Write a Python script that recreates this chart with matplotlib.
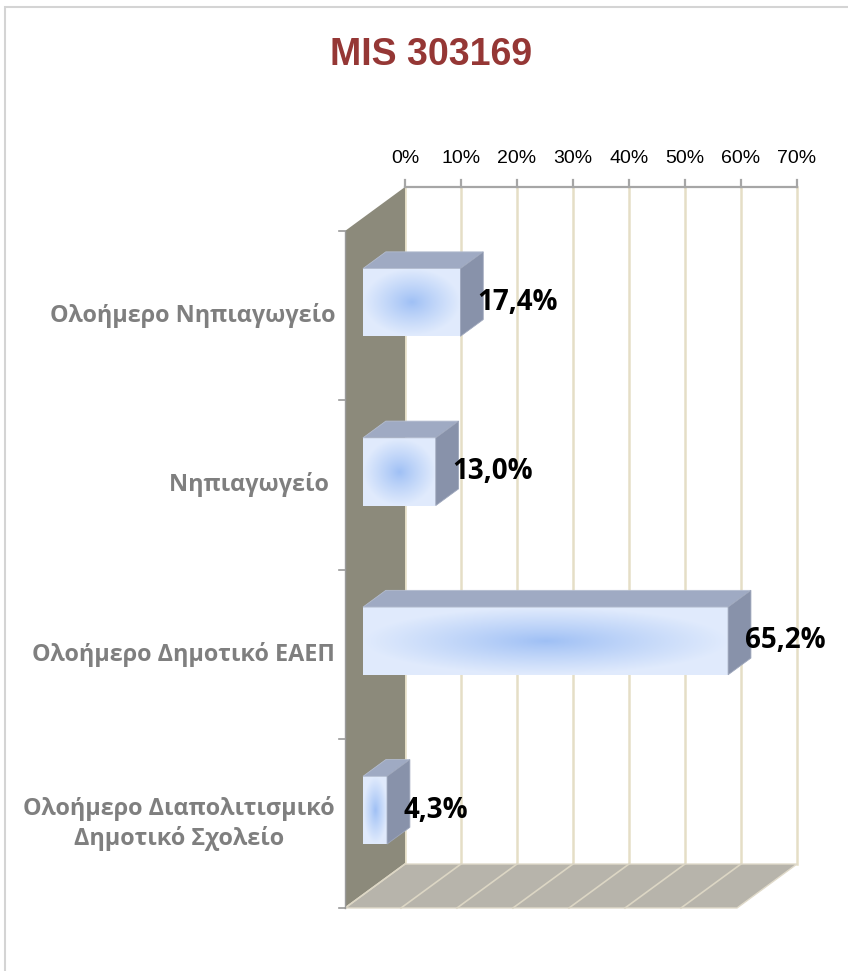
import matplotlib

matplotlib.use("Agg")
import matplotlib.pyplot as plt
import numpy as np
from matplotlib.patches import Polygon, Rectangle

# data
title = "MIS 303169"
categories = [
    "Ολοήμερο Νηπιαγωγείο",
    "Νηπιαγωγείο ",
    "Ολοήμερο Δημοτικό ΕΑΕΠ",
    "Ολοήμερο Διαπολιτισμικό\nΔημοτικό Σχολείο",
]
values = [17.4, 13.0, 65.2, 4.3]
value_labels = ["17,4%", "13,0%", "65,2%", "4,3%"]
ticks = [0, 10, 20, 30, 40, 50, 60, 70]
tick_labels = ["0%", "10%", "20%", "30%", "40%", "50%", "60%", "70%"]

# layout (pixels)
W, H = 848, 971
PX_PER_PCT = 5.6
PX_PER_CAT = 169.25
X0, Y0 = 345, 231
DX = 60 / PX_PER_PCT
DY = -44 / PX_PER_CAT
D_FRONT, D_BACK = 0.30, 0.68
HALF_BAR = 0.2
FONT = "Liberation Sans"
LABEL_FONT = "Open Sans"

n = len(categories)
vmax = ticks[-1]


def proj(v, c, d):
    return v + d * DX, c + d * DY


def px(dx_px):
    return dx_px / PX_PER_PCT


def py(dy_px):
    return dy_px / PX_PER_CAT


fig = plt.figure(figsize=(W / 100, H / 100), dpi=100)
ax = fig.add_axes([0, 0, 1, 1])
ax.axis("off")

# back wall gridlines
for t in ticks:
    x1, y1 = proj(t, 0, 1)
    x2, y2 = proj(t, n, 1)
    ax.plot([x1, x2], [y1, y2], color="#E5DEC6", lw=1.8, zorder=1)

# left wall
wall = [proj(0, 0, 0), proj(0, 0, 1), proj(0, n, 1), proj(0, n, 0)]
ax.add_patch(Polygon(wall, closed=True, fc="#8C8A7B", ec="none", zorder=2))

# floor
floor = [proj(0, n, 0), proj(0, n, 1), proj(vmax, n, 1), proj(vmax, n, 0)]
ax.add_patch(Polygon(floor, closed=True, fc="#B7B4AB", ec="#E0DACA", lw=1.0, zorder=2))
for t in ticks[:-1]:
    x1, y1 = proj(t, n, 1)
    x2, y2 = proj(t, n, 0)
    ax.plot([x1, x2], [y1, y2], color="#DCD6C4", lw=1.2, zorder=3)

# top value axis
xa, ya = proj(0, 0, 1)
xb, yb = proj(vmax, 0, 1)
ax.plot([xa, xb], [ya, yb], color="#A6A6A6", lw=1.6, zorder=4)
for t, lab in zip(ticks, tick_labels):
    x, y = proj(t, 0, 1)
    ax.plot([x, x], [y, y - py(7)], color="#A6A6A6", lw=1.6, zorder=4)
    ax.text(x, y - py(29), lab, ha="center", va="center", fontsize=14,
            family=FONT, color="black", zorder=5)

# left category axis ticks
xl, yt = proj(0, 0, 0)
_, yb2 = proj(0, n, 0)
ax.plot([xl, xl], [yt, yb2], color="#9A9A9A", lw=1.0, zorder=4)
for k in range(n + 1):
    x, y = proj(0, k, 0)
    ax.plot([x - px(6), x], [y, y], color="#9A9A9A", lw=1.2, zorder=4)

# bars
c_center = np.array([0.62, 0.75, 0.96])
c_edge = np.array([0.88, 0.92, 0.99])
for i, (v, lab, cat) in enumerate(zip(values, value_labels, categories)):
    ct = i + 0.5 - HALF_BAR
    cb = i + 0.5 + HALF_BAR
    # front face with radial gradient
    fx0, fyt = proj(0, ct, D_FRONT)
    fx1, fyb = proj(v, cb, D_FRONT)
    nx = max(int((fx1 - fx0) * PX_PER_PCT), 4)
    ny = 68
    u = np.linspace(-1, 1, nx)[None, :]
    w = np.linspace(-1, 1, ny)[:, None]
    r = np.clip(np.sqrt(u ** 2 + w ** 2), 0, 1) ** 0.9
    img = c_center[None, None, :] * (1 - r[..., None]) + c_edge[None, None, :] * r[..., None]
    ax.imshow(img, extent=(fx0, fx1, fyb, fyt), aspect="auto",
              interpolation="bilinear", zorder=6)
    # top face
    top = [proj(0, ct, D_FRONT), proj(v, ct, D_FRONT), proj(v, ct, D_BACK), proj(0, ct, D_BACK)]
    ax.add_patch(Polygon(top, closed=True, fc="#9FAAC3", ec="#B4BDD0", lw=0.6, zorder=6))
    # side face
    side = [proj(v, ct, D_FRONT), proj(v, cb, D_FRONT), proj(v, cb, D_BACK), proj(v, ct, D_BACK)]
    ax.add_patch(Polygon(side, closed=True, fc="#8892AA", ec="#9EA7BC", lw=0.6, zorder=6))

    # value label
    lx, _ = proj(v, i + 0.5, 0.58)
    _, ly = proj(v, i + 0.5, D_FRONT)
    ax.text(lx, ly, lab, ha="left", va="center", fontsize=20, fontweight="bold",
            family=LABEL_FONT, color="black", zorder=8)

    # category label
    cx, cy = proj(0, i + 0.5, 0)
    ax.text(cx - px(10), cy, cat, ha="right", va="center", multialignment="center",
            fontsize=16.8, fontweight="bold", family=LABEL_FONT, color="#7F7F7F",
            linespacing=1.25, zorder=8)

ax.set_xlim(-X0 / PX_PER_PCT, (W - X0) / PX_PER_PCT)
ax.set_ylim((H - Y0) / PX_PER_CAT, -Y0 / PX_PER_CAT)

fig.text(0.508, 1 - 55 / H, title, ha="center", va="center", fontsize=27,
         fontweight="bold", family=FONT, color="#953735")

fig.add_artist(Rectangle((5 / W, -0.05), 1.0, 1.05 - 7 / H, transform=fig.transFigure,
                         fill=False, ec="#D4D4D4", lw=1.5))

fig.savefig("out.png", dpi=100)
plt.close(fig)
